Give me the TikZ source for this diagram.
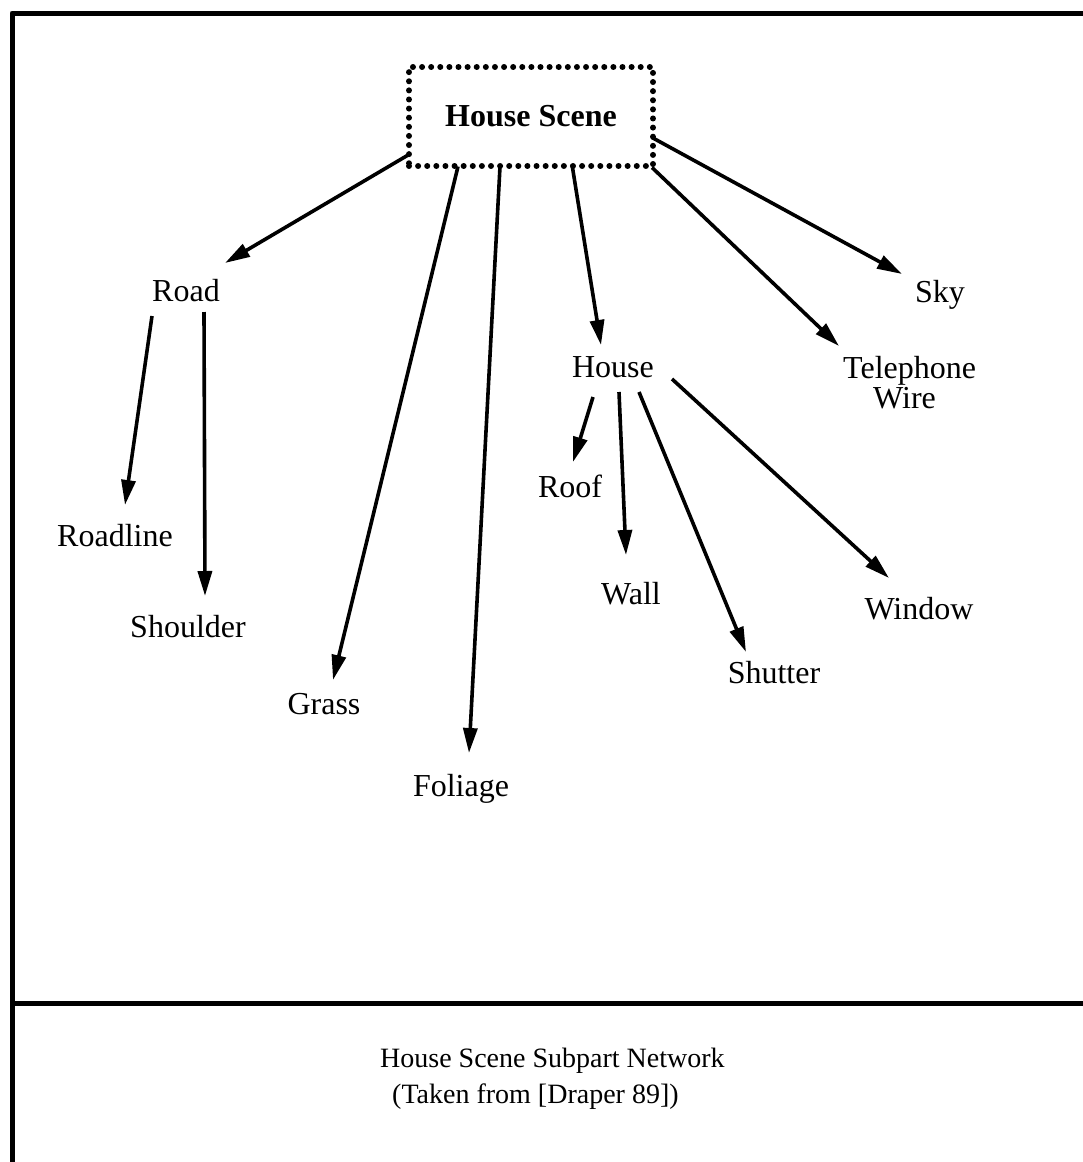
\documentclass[tikz,border=0pt]{standalone}
\usepackage{fontspec}
\setmainfont{Liberation Serif}
\usetikzlibrary{arrows.meta}
\begin{document}
\begin{tikzpicture}[x=1pt,y=-1pt,
  frame/.style={line width=5pt, line join=round},
  rootbox/.style={draw, line width=6pt, line cap=round, dash pattern=on 0.01pt off 9.1pt,
    minimum width=244pt, minimum height=99pt, inner sep=0pt,
    font=\fontsize{32}{30}\selectfont\bfseries},
  part/.style={font=\fontsize{32}{30}\selectfont, inner sep=0pt, anchor=base},
  caption/.style={font=\fontsize{28}{30}\selectfont, inner sep=0pt, anchor=base west},
  arr/.style={line width=3.6pt, -{Triangle[length=25pt,width=14pt]}}]
\useasboundingbox (0,0) rectangle (1083,1162);

% outer frame and caption rule
\draw[frame] (1083,13) -- (12,13) -- (12,1162);
\draw[frame] (12,1003) -- (1083,1003);

% root of the subpart network
\node[rootbox] (hs) at (531,116.5) {House Scene};

% parts
\node[part] (road)     at (186,301) {Road};
\node[part] (roadline) at (115,546) {Roadline};
\node[part] (shoulder) at (188,637) {Shoulder};
\node[part] (grass)    at (324,714) {Grass};
\node[part] (foliage)  at (461,796) {Foliage};
\node[part] (house)    at (613,377) {House};
\node[part] (roof)     at (570,497) {Roof};
\node[part] (wall)     at (631,604) {Wall};
\node[part] (shutter)  at (774,683) {Shutter};
\node[part] (window)   at (919,619) {Window};
\node[part] (sky)      at (940,302) {Sky};
\node[part, anchor=base west] (tel) at (843,378)
  {\begin{tabular}[t]{@{}l@{}}Telephone\\\hspace*{30pt}Wire\end{tabular}};

% subpart links
\draw[arr] ([shift={(-122,38)}]hs.center) -- ([shift={(39,-38)}]road.base);
\draw[arr] ([shift={(-73,50)}]hs.center)  -- ([shift={(9,-34)}]grass.base);
\draw[arr] ([shift={(-31,50)}]hs.center)  -- ([shift={(8,-43)}]foliage.base);
\draw[arr] ([shift={(41,48)}]hs.center)   -- ([shift={(-12,-32)}]house.base);
\draw[arr] ([shift={(121,51)}]hs.center)  -- ([shift={(-4,-32)}]tel.base west);
\draw[arr] ([shift={(121,21)}]hs.center)  -- ([shift={(-38,-28)}]sky.base);

\draw[arr] ([shift={(-34,15)}]road.base) -- ([shift={(10,-41)}]roadline.base);
\draw[arr] ([shift={(18,11)}]road.base)  -- ([shift={(17,-41)}]shoulder.base);

\draw[arr] ([shift={(-20,20)}]house.base) -- ([shift={(3,-35)}]roof.base);
\draw[arr] ([shift={(6,15)}]house.base)   -- ([shift={(-5,-49)}]wall.base);
\draw[arr] ([shift={(26,15)}]house.base)  -- ([shift={(-28,-31)}]shutter.base);
\draw[arr] ([shift={(59,2)}]house.base)   -- ([shift={(-30,-41)}]window.base);

% caption
\node[caption] (cap1) at (380,1067) {House Scene Subpart Network};
\node[caption] (cap2) at (392,1103) {(Taken from [Draper 89])};
\end{tikzpicture}
\end{document}
